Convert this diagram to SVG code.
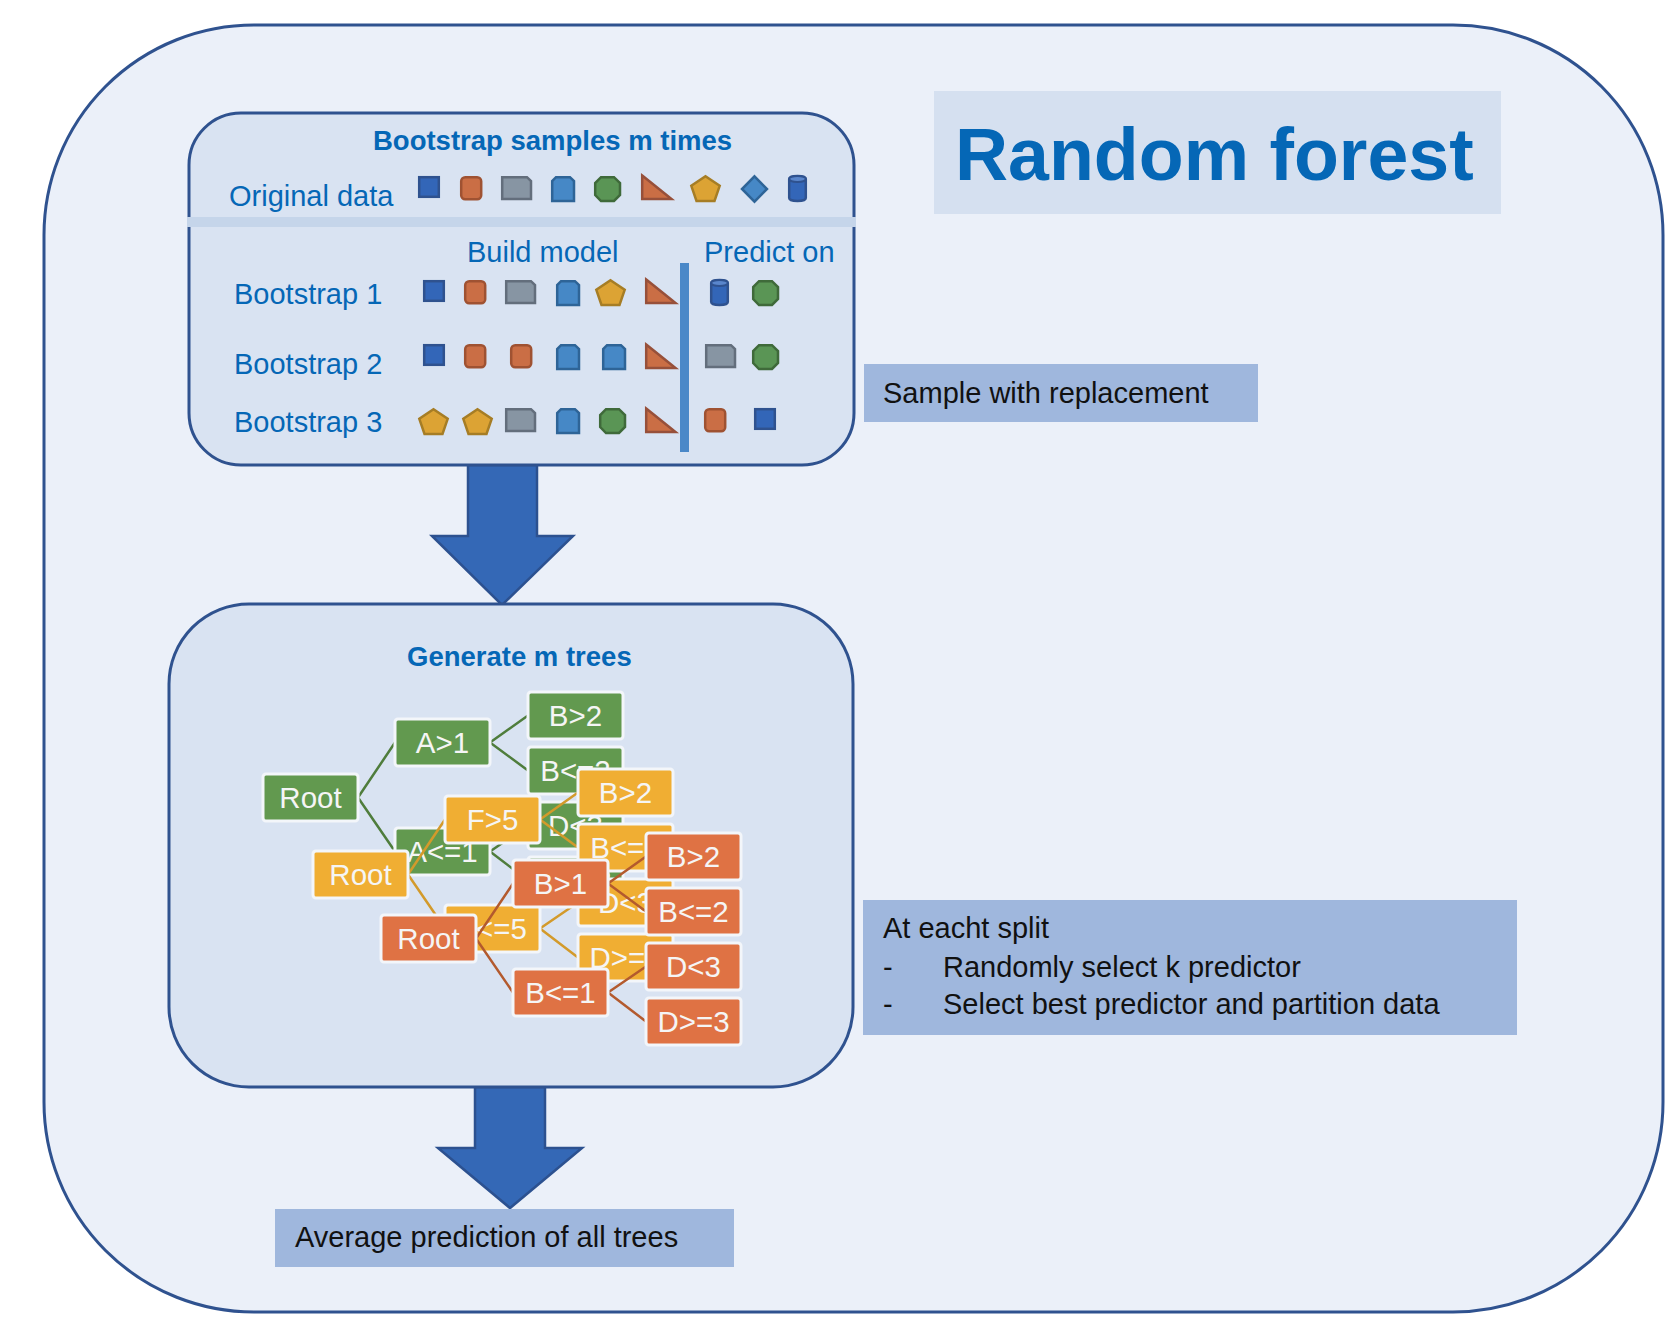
<svg xmlns="http://www.w3.org/2000/svg" xmlns:xlink="http://www.w3.org/1999/xlink" width="1672" height="1342" viewBox="0 0 1672 1342">
<defs>
<style>
.frame{fill:#EBF0F9;stroke:#2F528F;stroke-width:3}
.panel{fill:#D9E3F2;stroke:#2F528F;stroke-width:3}
.band{fill:#C5D5EA}
.ttl{font-family:"Liberation Sans",Arial,sans-serif;font-weight:bold;fill:#0567B6}
.blue{font-family:"Liberation Sans",Arial,sans-serif;font-size:29px;fill:#0567B6}
.blk{font-family:"Liberation Sans",Arial,sans-serif;font-size:29px;fill:#111111}
.lbl{fill:#9FB7DD}
.arrow{fill:#3468B6;stroke:#2C5190;stroke-width:2.5;stroke-linejoin:miter}
.node rect{stroke:#F3F6FA;stroke-width:3}
.node text{font-family:"Liberation Sans",Arial,sans-serif;font-size:29.5px;fill:#F5F5F5;text-anchor:middle}
.g rect{fill:#62994F}
.y rect{fill:#F0AE33}
.o rect{fill:#DF7244}
.lg{stroke:#4F7D3C;stroke-width:2.5;fill:none}
.ly{stroke:#D39A2B;stroke-width:2.5;fill:none}
.lo{stroke:#B35A2E;stroke-width:2.5;fill:none}
</style>
<rect id="sq" x="1.2" y="1.2" width="19.6" height="19.6" fill="#3366B8" stroke="#2F528F" stroke-width="2.5"/>
<rect id="orr" x="1.2" y="1.2" width="20" height="22" rx="4" fill="#CA6E45" stroke="#9F5232" stroke-width="2.5"/>
<path id="gsnip" d="M1.2,1.2 H26 L30,5 V23 H1.2 Z" fill="#8795A3" stroke="#636E7C" stroke-width="2.5"/>
<path id="lb" d="M5,1.2 H19 L23,5 V25 H1.2 V5 Z" fill="#4688C6" stroke="#2E6497" stroke-width="2.5"/>
<path id="oct" d="M7,1.2 H20 L26,7 V19 L20,25 H7 L1.2,19 V7 Z" fill="#5A9555" stroke="#3F6A3A" stroke-width="2.5"/>
<path id="tri" d="M1.2,1.5 L30.5,25 H1.2 Z" fill="#CA6E45" stroke="#97503A" stroke-width="2.5"/>
<path id="pent" d="M15.5,1.3 L29.7,10.8 L24.5,26 H6.5 L1.3,10.8 Z" fill="#DCA334" stroke="#A67D25" stroke-width="2.5"/>
<path id="dia" d="M13.5,1.3 L26,14 L13.5,26.7 L1,14 Z" fill="#4688C6" stroke="#2E6497" stroke-width="2.5"/>
<g id="cyl">
<path d="M1.2,4 A8.3,3 0 0 1 17.8,4 V23 A8.3,3 0 0 1 1.2,23 Z" fill="#3366B8" stroke="#2F528F" stroke-width="2.5"/>
<ellipse cx="9.5" cy="4" rx="8.3" ry="3" fill="#5A86CC" stroke="#2F528F" stroke-width="2"/>
</g>
</defs>

<g id="outer-frame">
<rect class="frame" x="44" y="25" width="1619" height="1287" rx="210" ry="210"/>
</g>

<g id="title">
<rect x="934" y="91" width="567" height="123" fill="#D5E0F0"/>
<text class="ttl" x="955" y="180" font-size="73.5">Random forest</text>
</g>

<g id="connectors">
<polygon id="arrow-1" class="arrow" points="468,465 537,465 537,536 573,536 502,605 432,536 468,536"/>
<polygon id="arrow-2" class="arrow" points="475,1087 545,1087 545,1148 582,1148 510,1208 438,1148 475,1148"/>
</g>

<g id="bootstrap-panel">
<rect class="panel" x="189" y="113" width="665" height="352" rx="52" ry="52"/>
<rect class="band" x="187" y="217" width="669" height="10"/>
<text class="ttl" x="373" y="150" font-size="27.5">Bootstrap samples m times</text>
<text class="blue" x="229" y="206">Original data</text>
<text class="blue" x="467" y="262">Build model</text>
<text class="blue" x="704" y="262">Predict on</text>
<text class="blue" x="234" y="304">Bootstrap 1</text>
<text class="blue" x="234" y="374">Bootstrap 2</text>
<text class="blue" x="234" y="432">Bootstrap 3</text>
<rect x="680" y="263" width="9" height="189" fill="#4A88C8"/>
<g id="original-row">
<use xlink:href="#sq" x="418" y="176"/>
<use xlink:href="#orr" x="460" y="176"/>
<use xlink:href="#gsnip" x="501" y="176"/>
<use xlink:href="#lb" x="551" y="176"/>
<use xlink:href="#oct" x="594" y="176"/>
<use xlink:href="#tri" x="641" y="174"/>
<use xlink:href="#pent" x="690" y="175"/>
<use xlink:href="#dia" x="741" y="175"/>
<use xlink:href="#cyl" x="788" y="175"/>
</g>
<g id="bootstrap-1-row">
<use xlink:href="#sq" x="423" y="280"/>
<use xlink:href="#orr" x="464" y="280"/>
<use xlink:href="#gsnip" x="505" y="280"/>
<use xlink:href="#lb" x="556" y="280"/>
<use xlink:href="#pent" x="595" y="279"/>
<use xlink:href="#tri" x="645" y="278"/>
<use xlink:href="#cyl" x="710" y="279"/>
<use xlink:href="#oct" x="752" y="280"/>
</g>
<g id="bootstrap-2-row">
<use xlink:href="#sq" x="423" y="344"/>
<use xlink:href="#orr" x="464" y="344"/>
<use xlink:href="#orr" x="510" y="344"/>
<use xlink:href="#lb" x="556" y="344"/>
<use xlink:href="#lb" x="602" y="344"/>
<use xlink:href="#tri" x="645" y="343"/>
<use xlink:href="#gsnip" x="705" y="344"/>
<use xlink:href="#oct" x="752" y="344"/>
</g>
<g id="bootstrap-3-row">
<use xlink:href="#pent" x="418" y="408"/>
<use xlink:href="#pent" x="462" y="408"/>
<use xlink:href="#gsnip" x="505" y="408"/>
<use xlink:href="#lb" x="556" y="408"/>
<use xlink:href="#oct" x="599" y="408"/>
<use xlink:href="#tri" x="645" y="407"/>
<use xlink:href="#orr" x="704" y="408"/>
<use xlink:href="#sq" x="754" y="408"/>
</g>
</g>

<g id="sample-label">
<rect class="lbl" x="864" y="364" width="394" height="58"/>
<text class="blk" x="883" y="403">Sample with replacement</text>
</g>

<g id="trees-panel">
<rect class="panel" x="169" y="604" width="684" height="483" rx="80" ry="80"/>
<text class="ttl" x="407" y="666" font-size="27.5">Generate m trees</text>

<g id="tree-green">
<g id="tree-green-connectors" class="lg">
<path d="M358,797.5 L395,742.5 M358,797.5 L395,851.5 M490,742.5 L528,715.5 M490,742.5 L528,770.5 M490,851.5 L528,825.5 M490,851.5 L528,880.5"/>
</g>
<g id="g-root" class="node g"><rect x="263" y="774" width="95" height="47" rx="3"/><text x="310.5" y="808">Root</text></g>
<g id="g-a-gt1" class="node g"><rect x="395" y="719" width="95" height="47" rx="3"/><text x="442.5" y="753">A&gt;1</text></g>
<g id="g-a-le1" class="node g"><rect x="395" y="828" width="95" height="47" rx="3"/><text x="442.5" y="862">A&lt;=1</text></g>
<g id="g-b-gt2" class="node g"><rect x="528" y="692" width="95" height="47" rx="3"/><text x="575.5" y="726">B&gt;2</text></g>
<g id="g-b-le2" class="node g"><rect x="528" y="747" width="95" height="47" rx="3"/><text x="575.5" y="781">B&lt;=2</text></g>
<g id="g-d-lt3" class="node g"><rect x="528" y="802" width="95" height="47" rx="3"/><text x="575.5" y="836">D&lt;3</text></g>
<g id="g-d-ge3" class="node g"><rect x="528" y="857" width="95" height="47" rx="3"/><text x="575.5" y="891">D&gt;=3</text></g>
</g>

<g id="tree-yellow">
<g id="tree-yellow-connectors" class="ly">
<path d="M408,874.5 L445,819.5 M408,874.5 L445,928.5 M540,819.5 L578,792.5 M540,819.5 L578,847.5 M540,928.5 L578,902.5 M540,928.5 L578,957.5"/>
</g>
<g id="y-root" class="node y"><rect x="313" y="851" width="95" height="47" rx="3"/><text x="360.5" y="885">Root</text></g>
<g id="y-f-gt5" class="node y"><rect x="445" y="796" width="95" height="47" rx="3"/><text x="492.5" y="830">F&gt;5</text></g>
<g id="y-f-le5" class="node y"><rect x="445" y="905" width="95" height="47" rx="3"/><text x="492.5" y="939">F&lt;=5</text></g>
<g id="y-b-gt2" class="node y"><rect x="578" y="769" width="95" height="47" rx="3"/><text x="625.5" y="803">B&gt;2</text></g>
<g id="y-b-le2" class="node y"><rect x="578" y="824" width="95" height="47" rx="3"/><text x="625.5" y="858">B&lt;=2</text></g>
<g id="y-d-lt3" class="node y"><rect x="578" y="879" width="95" height="47" rx="3"/><text x="625.5" y="913">D&lt;3</text></g>
<g id="y-d-ge3" class="node y"><rect x="578" y="934" width="95" height="47" rx="3"/><text x="625.5" y="968">D&gt;=3</text></g>
</g>

<g id="tree-orange">
<g id="tree-orange-connectors" class="lo">
<path d="M476,938.5 L513,883.5 M476,938.5 L513,992.5 M608,883.5 L646,856.5 M608,883.5 L646,911.5 M608,992.5 L646,966.5 M608,992.5 L646,1021.5"/>
</g>
<g id="o-root" class="node o"><rect x="381" y="915" width="95" height="47" rx="3"/><text x="428.5" y="949">Root</text></g>
<g id="o-b-gt1" class="node o"><rect x="513" y="860" width="95" height="47" rx="3"/><text x="560.5" y="894">B&gt;1</text></g>
<g id="o-b-le1" class="node o"><rect x="513" y="969" width="95" height="47" rx="3"/><text x="560.5" y="1003">B&lt;=1</text></g>
<g id="o-b-gt2" class="node o"><rect x="646" y="833" width="95" height="47" rx="3"/><text x="693.5" y="867">B&gt;2</text></g>
<g id="o-b-le2" class="node o"><rect x="646" y="888" width="95" height="47" rx="3"/><text x="693.5" y="922">B&lt;=2</text></g>
<g id="o-d-lt3" class="node o"><rect x="646" y="943" width="95" height="47" rx="3"/><text x="693.5" y="977">D&lt;3</text></g>
<g id="o-d-ge3" class="node o"><rect x="646" y="998" width="95" height="47" rx="3"/><text x="693.5" y="1032">D&gt;=3</text></g>
</g>
</g>

<g id="split-label">
<rect class="lbl" x="863" y="900" width="654" height="135"/>
<text class="blk" x="883" y="938">At eacht split</text>
<text class="blk" x="883" y="977">-</text>
<text class="blk" x="943" y="977">Randomly select k predictor</text>
<text class="blk" x="883" y="1014">-</text>
<text class="blk" x="943" y="1014">Select best predictor and partition data</text>
</g>

<g id="average-label">
<rect class="lbl" x="275" y="1209" width="459" height="58"/>
<text class="blk" x="295" y="1247">Average prediction of all trees</text>
</g>
</svg>
